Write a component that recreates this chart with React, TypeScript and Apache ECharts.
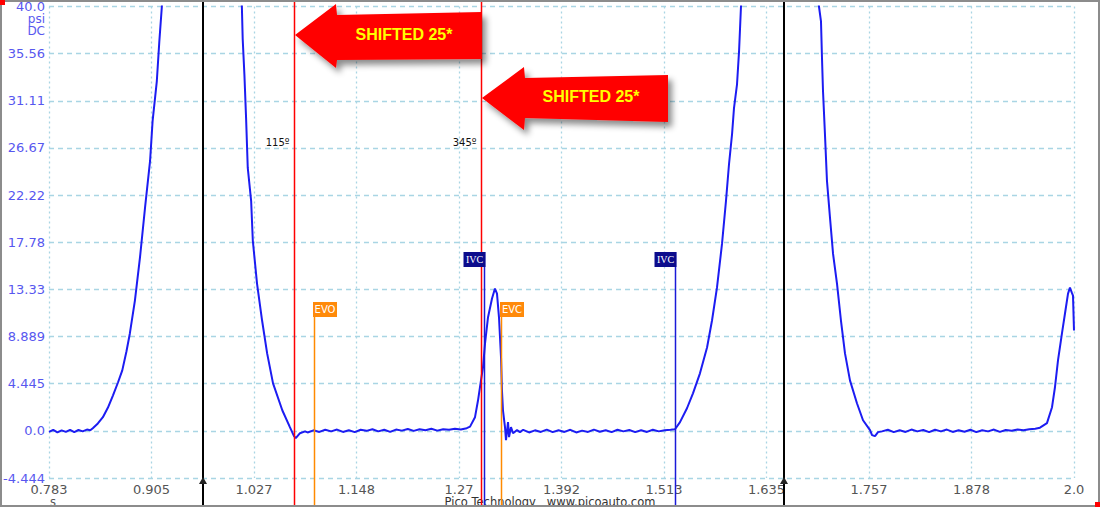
import React, { useEffect, useRef } from "react";
import * as echarts from "echarts";

// ---- axes ----
const X0 = 0.783;
const X_STEP = 0.1217;
const X_SPAN = 1.217;
const X_LABELS = ["0.783", "0.905", "1.027", "1.148", "1.27", "1.392", "1.513", "1.635", "1.757", "1.878", "2.0"];
const Y_MIN = -4.4444;
const Y_STEP = 4.4444;
const Y_MAX = 39.9996;
const Y_LABELS = ["-4.444", "0.0", "4.445", "8.889", "13.33", "17.78", "22.22", "26.67", "31.11", "35.56", "40.0"];

// ---- trace (seconds, psi) ----
const TIME = [
  0.783, 0.788, 0.793, 0.798, 0.803, 0.808, 0.813, 0.818, 0.823, 0.828, 0.832, 0.835, 0.841, 0.847, 0.853, 0.859, 0.865, 0.870, 0.875, 0.879, 0.885, 0.891, 0.897, 0.903, 0.906, 0.911, 0.914, 0.917,
  0.927, 0.944, 0.965, 0.986, 1.004,
  1.012, 1.013, 1.015, 1.017, 1.019, 1.023, 1.025, 1.030, 1.036, 1.042, 1.049, 1.060, 1.069, 1.0739, 1.076, 1.081, 1.087,
  1.090, 1.097, 1.104, 1.111, 1.118, 1.125, 1.132, 1.139, 1.146, 1.153, 1.160, 1.167, 1.174, 1.181, 1.188, 1.195, 1.202, 1.209, 1.216, 1.223, 1.230, 1.237, 1.244, 1.251, 1.258, 1.265, 1.272, 1.279,
  1.2829, 1.2888, 1.2924, 1.2959, 1.2983, 1.3007, 1.3042, 1.3090, 1.3125, 1.3149, 1.3173, 1.3185, 1.3197, 1.3208, 1.3220, 1.3244, 1.3256, 1.3280, 1.3292, 1.3315, 1.3339, 1.3387, 1.3422,
  1.346, 1.353, 1.360, 1.367, 1.374, 1.381, 1.388, 1.395, 1.402, 1.409, 1.416, 1.423, 1.430, 1.437, 1.444, 1.451, 1.458, 1.465, 1.472, 1.479, 1.486, 1.493, 1.500, 1.507, 1.514, 1.521,
  1.5263, 1.5322, 1.5405, 1.5476, 1.5559, 1.5643, 1.5702, 1.5761, 1.5821, 1.5868, 1.5904, 1.5940, 1.5963, 1.5999, 1.6023, 1.6046,
  1.6153, 1.6331, 1.6509, 1.6687, 1.6865,
  1.6972, 1.6996, 1.7008, 1.7020, 1.7043, 1.7067, 1.7103, 1.7139, 1.7186, 1.7233, 1.7281, 1.7340, 1.7423, 1.7495, 1.7578, 1.7602, 1.7637, 1.7673,
  1.772, 1.779, 1.786, 1.793, 1.800, 1.807, 1.814, 1.821, 1.828, 1.835, 1.842, 1.849, 1.856, 1.863, 1.870, 1.877, 1.884, 1.891, 1.898, 1.905, 1.912, 1.919, 1.926, 1.933, 1.940, 1.947, 1.954,
  1.9596, 1.9679, 1.9739, 1.9774, 1.9810, 1.9857, 1.9893, 1.9929, 1.9952, 1.9975, 1.9988, 2.0,
];
const PSI = [
  -0.1, 0.1, -0.15, 0.05, -0.1, 0.1, -0.12, 0.08, -0.05, 0.12, 0.05, 0.25, 0.7, 1.29, 2.2, 3.35, 4.58, 5.7, 7.5, 9.18, 12.28, 16.32, 21.02, 25.44, 29.19, 32.95, 36.71, 40.0,
  52, 66, 72, 64, 50,
  40.0, 36.9, 33.6, 29.48, 24.78, 21.68, 17.92, 13.88, 10.4, 7.3, 4.48, 1.94, 0.35, -0.5, -0.69, -0.22, -0.05,
  -0.15, 0.05, -0.1, 0.1, -0.05, 0.12, -0.1, 0.05, -0.12, 0.1, 0, 0.15, -0.05, 0.1, -0.1, 0.12, 0.02, 0.18, 0, 0.15, 0.05, 0.2, 0.02, 0.15, 0.1, 0.2, 0.12, 0.25,
  0.4, 1.29, 2.88, 4.76, 5.99, 8.24, 10.68, 12.47, 13.41, 12.94, 10.68, 8.8, 6.93, 3.82, 1.94, 0.35, -0.87, 0.82, -0.59, 0.35, -0.22, 0.07, -0.12,
  0.1, -0.15, 0.05, -0.1, 0.12, -0.12, 0.05, -0.1, 0.1, -0.15, 0.02, -0.1, 0.12, -0.08, 0.05, -0.12, 0.1, -0.05, 0.08, -0.12, 0.05, -0.1, 0.1, -0.05, 0.05, 0.1,
  0.15, 0.82, 2.13, 3.54, 5.42, 7.86, 10.4, 13.5, 17.64, 21.68, 25.15, 27.97, 30.42, 32.67, 35.77, 40.0,
  52, 66, 72, 64, 50,
  40.0, 38.59, 35.11, 32.01, 27.97, 23.56, 20.08, 16.7, 13.88, 10.4, 7.3, 4.76, 2.6, 1.0, 0.07, -0.4, -0.5, -0.12,
  -0.05, 0.1, -0.12, 0.05, -0.1, 0.12, -0.05, 0.08, -0.12, 0.1, -0.05, 0.12, -0.1, 0.05, -0.08, 0.1, -0.12, 0.05, -0.05, 0.12, -0.1, 0.08, 0, 0.12, 0.05, 0.15, 0.2,
  0.3, 0.73, 2.23, 4.11, 6.64, 9.18, 11.06, 12.94, 13.5, 13.0, 12.75, 9.46,
];

// ---- markers (seconds) ----
const TDC_TIMES = [0.9658, 1.6557];
const CRANK_TIMES = [1.0739, 1.2959];
const CRANK_LABELS = ["115º", "345º"];
const EXH_TIMES = [1.0982, 1.3191];
const EXH_LABELS = ["EVO", "EVC"];
const IVC_TIMES = [1.2995, 1.5263];
const IVC_LABELS = ["IVC", "IVC"];
const ARROW_TEXT = "SHIFTED 25*";

const W = 1100;
const H = 507;

export default function App() {
  const ref = useRef<HTMLDivElement>(null);
  useEffect(() => {
    const el = ref.current!;
    const chart = echarts.init(el, null, { renderer: "svg" });
    const font = "DejaVu Sans";
    const yColor = "#5757ef";
    chart.setOption({
      animation: false,
      backgroundColor: "#ffffff",
      grid: { left: 49, right: 26, top: 5, bottom: 29 },
      xAxis: {
        type: "value",
        min: 0,
        max: X_SPAN,
        interval: X_STEP,
        axisLine: { show: false },
        axisTick: { show: false },
        splitLine: { show: true, lineStyle: { color: "#a9d5e4", type: [2, 3], width: 1.3 } },
        axisLabel: {
          color: "#555555",
          fontFamily: font,
          fontSize: 13,
          margin: 5,
          lineHeight: 12,
          formatter: (v: number) => X_LABELS[Math.round(v / X_STEP)] ?? "",
        },
      },
      yAxis: {
        type: "value",
        min: Y_MIN,
        max: Y_MAX,
        interval: Y_STEP,
        axisLine: { show: false },
        axisTick: { show: false },
        splitLine: { show: true, lineStyle: { color: "#a9d5e4", type: [5, 4], width: 1.3 } },
        axisLabel: {
          color: yColor,
          fontFamily: font,
          fontSize: 13,
          margin: 4,
          lineHeight: 10,
          formatter: (v: number) => Y_LABELS[Math.round((v - Y_MIN) / Y_STEP)] ?? "",
        },
      },
      series: [
        {
          type: "line",
          data: TIME.map((t, i) => [t - X0, PSI[i]]),
          showSymbol: false,
          symbol: "none",
          clip: true,
          z: 3,
          lineStyle: { color: "#1c1cf2", width: 2 },
        },
      ],
    });

    const px = (t: number) => chart.convertToPixel({ xAxisIndex: 0 }, t - X0) as number;
    const g: any[] = [];
    const txt = (text: string, x: number, y: number, fill: string, fontStr: string, align: string, z = 12) => ({
      type: "text",
      z,
      x,
      y,
      style: { text, fill, font: fontStr, textAlign: align, align, textVerticalAlign: "middle", verticalAlign: "middle" },
    });

    // frame
    g.push({ type: "rect", z: 20, shape: { x: 1, y: 1, width: W - 2, height: H - 2 }, style: { fill: "none", stroke: "#8c8c8c", lineWidth: 2 } });
    g.push({ type: "rect", z: 21, shape: { x: 0, y: 0, width: 5, height: 5 }, style: { fill: "#ff0000" } });
    g.push({ type: "rect", z: 21, shape: { x: W - 5, y: H - 5, width: 5, height: 5 }, style: { fill: "#ff0000" } });

    // units and footer
    g.push(txt("psi", 45, 19, yColor, `12px '${font}'`, "right", 10));
    g.push(txt("DC", 45, 31, yColor, `12px '${font}'`, "right", 10));
    g.push(txt("s", 53, 501.5, "#555555", `11.5px '${font}'`, "center", 10));
    g.push(txt("Pico Technology   www.picoauto.com", 550, 501.5, "#333333", `11.5px '${font}'`, "center", 10));

    // TDC lines
    TDC_TIMES.forEach((t) => {
      const x = Math.round(px(t));
      g.push({ type: "line", z: 10, shape: { x1: x, y1: 0, x2: x, y2: H }, style: { stroke: "#000000", lineWidth: 2 } });
      g.push({ type: "polygon", z: 11, shape: { points: [[x - 4, 484], [x + 4, 484], [x, 477]] }, style: { fill: "#222222" } });
    });

    // crank angle lines
    CRANK_TIMES.forEach((t, i) => {
      const x = Math.round(px(t)) + 0.5;
      g.push({ type: "line", z: 12, shape: { x1: x, y1: 2, x2: x, y2: H }, style: { stroke: "#ff0000", lineWidth: 1.5 } });
      g.push(txt(CRANK_LABELS[i], x - 5, 142, "#111111", `10px '${font}'`, "right", 12));
    });

    // EVO / EVC
    EXH_TIMES.forEach((t, i) => {
      const x = Math.round(px(t)) + 0.5;
      g.push({ type: "line", z: 12, shape: { x1: x, y1: 302, x2: x, y2: H }, style: { stroke: "#ff8a00", lineWidth: 1.5 } });
      g.push({ type: "rect", z: 13, shape: { x: x - 1.5, y: 302, width: 24, height: 15 }, style: { fill: "#ff8a0a" } });
      g.push(txt(EXH_LABELS[i], x + 10.5, 309.5, "#ffffff", `10px '${font}'`, "center", 14));
    });

    // IVC
    IVC_TIMES.forEach((t, i) => {
      const x = Math.round(px(t)) + 0.5;
      g.push({ type: "line", z: 12, shape: { x1: x, y1: 252, x2: x, y2: H }, style: { stroke: "#1a1ad8", lineWidth: 1.5 } });
      g.push({ type: "rect", z: 13, shape: { x: x - 21, y: 252, width: 22, height: 15 }, style: { fill: "#0c0c8c" } });
      g.push(txt(IVC_LABELS[i], x - 10, 259.5, "#ffffff", "10px 'Liberation Serif'", "center", 14));
    });

    // arrows
    const shadow = { shadowBlur: 6, shadowOffsetX: 4, shadowOffsetY: 5, shadowColor: "rgba(0,0,0,0.45)" };
    const r1 = px(CRANK_TIMES[0]) + 1;
    const r2 = px(CRANK_TIMES[1]) + 1;
    const arrows = [
      { tip: [r1, 35], headX: r1 + 41, headTop: 4, headBot: 68, sTopL: 15, sBotL: 60, endX: r2, sTopR: 12, sBotR: 59 },
      { tip: [r2, 98], headX: r2 + 42, headTop: 67, headBot: 130, sTopL: 78, sBotL: 118, endX: 668, sTopR: 75, sBotR: 122 },
    ];
    arrows.forEach((a) => {
      g.push({
        type: "polygon",
        z: 15,
        shape: {
          points: [
            a.tip,
            [a.headX, a.headTop],
            [a.headX + 1, a.sTopL],
            [a.endX, a.sTopR],
            [a.endX, a.sBotR],
            [a.headX + 1, a.sBotL],
            [a.headX, a.headBot],
          ],
        },
        style: { fill: "#ff0000", ...shadow },
      });
      g.push(
        txt(
          ARROW_TEXT,
          (a.headX + a.endX) / 2 - 5,
          (a.sTopL + a.sBotL + a.sTopR + a.sBotR) / 4 - 2,
          "#ffff00",
          "bold 16px 'Liberation Sans', Arial",
          "center",
          16
        )
      );
    });

    chart.setOption({ graphic: g });
    return () => chart.dispose();
  }, []);
  return <div ref={ref} style={{ position: "absolute", left: 0, top: 0, width: W, height: H }} />;
}
